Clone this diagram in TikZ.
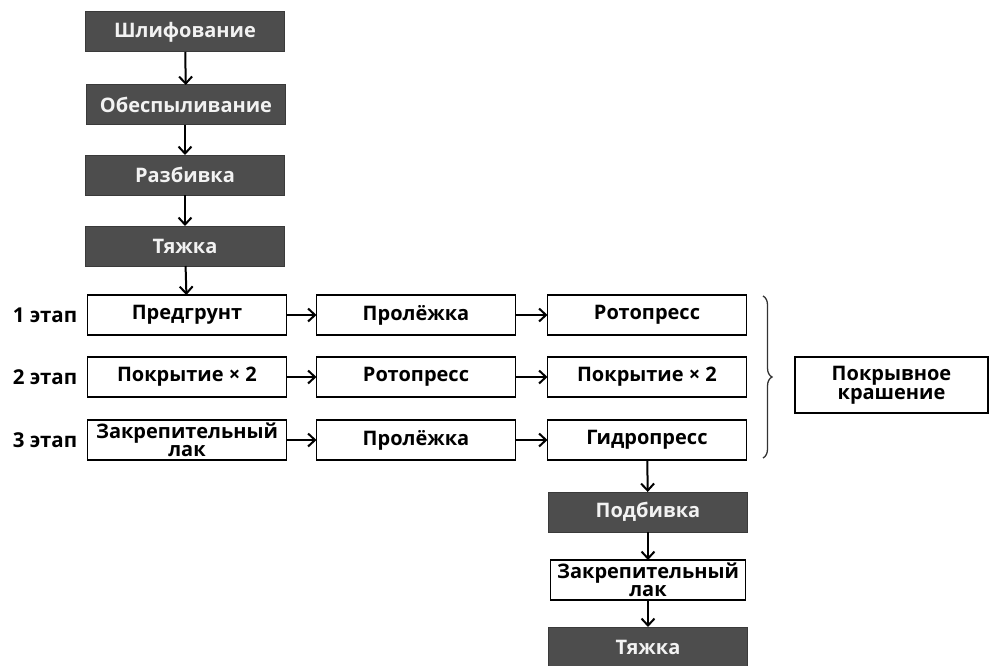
\documentclass[tikz,border=0pt]{standalone}
\usepackage{fontspec}
\setmainfont{Open Sans}
\usetikzlibrary{arrows.meta,decorations.pathreplacing}
\definecolor{darkbox}{HTML}{4D4D4D}
\definecolor{darkedge}{HTML}{3A3A3A}
\definecolor{boxtext}{HTML}{F2F2F2}
\begin{document}
\begin{tikzpicture}[x=1pt,y=-1pt,
  every node/.style={inner sep=0pt, outer sep=0pt},
  txt/.style={font=\bfseries\fontsize{20}{18}\selectfont, align=center},
  darkstep/.style={txt, draw=darkedge, line width=1pt, fill=darkbox, text=boxtext,
    minimum width=199pt, minimum height=40pt},
  whitestep/.style={txt, draw=black, line width=1.8pt, fill=white, text=black,
    minimum width=199pt, minimum height=40pt},
  rowlabel/.style={font=\bfseries\fontsize{20.5}{20}\selectfont},
  arr/.style={-{Straight Barb[length=7pt,width=13pt,line width=2pt]}, line width=2pt}]
\useasboundingbox (0,0) rectangle (990,666);
% top column
\node[darkstep] (s1) at (185,32) {Шлифование};
\node[darkstep] (s2) at (186,105) {Обеспыливание};
\node[darkstep] (s3) at (185,175) {Разбивка};
\node[darkstep] (s4) at (185,246) {Тяжка};
% stages
\node[whitestep] (a1) at (187,315) {Предгрунт};
\node[whitestep] (a2) at (416,315) {Пролёжка};
\node[whitestep] (a3) at (647,315) {Ротопресс};
\node[whitestep] (b1) at (187,377) {Покрытие × 2};
\node[whitestep] (b2) at (416,377) {Ротопресс};
\node[whitestep] (b3) at (647,377) {Покрытие × 2};
\node[whitestep] (c1) at (187,440) {Закрепительный\\лак};
\node[whitestep] (c2) at (416,440) {Пролёжка};
\node[whitestep] (c3) at (647,440) {Гидропресс};
\node[rowlabel] (l1) at (45,315) {1 этап};
\node[rowlabel] (l2) at (45,377) {2 этап};
\node[rowlabel] (l3) at (45,440) {3 этап};
% brace and result
\coordinate (bt) at (763,296);
\coordinate (bb) at (763,458);
\draw[line width=1.3pt, black!80, decoration={brace, amplitude=9pt}, decorate] (bt) -- (bb);
\node[whitestep, minimum width=193pt, minimum height=56pt, font=\bfseries\fontsize{20}{19}\selectfont] (res) at (891.5,385) {Покрывное\\крашение};
% bottom column
\node[darkstep] (d1) at (648,512) {Подбивка};
\node[whitestep, minimum width=195pt] (d2) at (648,580) {Закрепительный\\лак};
\node[darkstep] (d3) at (648,647) {Тяжка};
% connectors
\draw[arr] (s1) -- (s2);
\draw[arr] (s2.south -| s3.north) -- (s3);
\draw[arr] (s3) -- (s4);
\draw[arr] (s4) -- (a1);
\draw[arr] (a1) -- (a2);
\draw[arr] (a2) -- (a3);
\draw[arr] (b1) -- (b2);
\draw[arr] (b2) -- (b3);
\draw[arr] (c1) -- (c2);
\draw[arr] (c2) -- (c3);
\draw[arr] (c3) -- (d1);
\draw[arr] (d1) -- (d2);
\draw[arr] (d2) -- (d3);
\end{tikzpicture}
\end{document}
